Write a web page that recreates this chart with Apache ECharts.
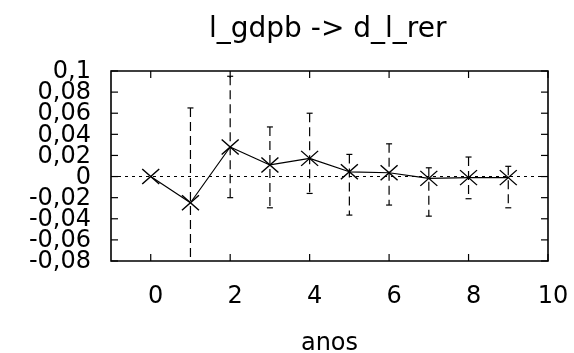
<!DOCTYPE html>
<html>
<head>
<meta charset="utf-8">
<script src="https://cdn.jsdelivr.net/npm/echarts@6/dist/echarts.min.js"></script>
<style>
  html, body { margin: 0; padding: 0; background: #ffffff; }
  #chart { width: 574px; height: 353px; }
</style>
</head>
<body>
<div id="chart"></div>
<script>
// resposta ao impulso e intervalo
const anos = [0, 1, 2, 3, 4, 5, 6, 7, 8, 9];
const resposta = [0, -0.0248, 0.028, 0.011, 0.0172, 0.0045, 0.0036, -0.0017, -0.001, -0.001];
const limiteSup = [0, 0.065, 0.095, 0.047, 0.060, 0.021, 0.031, 0.0083, 0.0185, 0.0097];
const limiteInf = [0, -0.085, -0.020, -0.0296, -0.016, -0.0365, -0.027, -0.0375, -0.021, -0.0296];
const ticksX = [0, 2, 4, 6, 8, 10];
const ticksY = [-0.08, -0.06, -0.04, -0.02, 0, 0.02, 0.04, 0.06, 0.08, 0.1];

const fonte = 'DejaVu Sans';
const chart = echarts.init(document.getElementById('chart'));

const virgula = v => {
  if (Math.abs(v) < 1e-9) return '0';
  return String(Number(v.toFixed(2))).replace('.', ',');
};

chart.setOption({
  animation: false,
  title: {
    text: 'l_gdpb -> d_l_rer',
    left: 204, top: 11,
    textStyle: { fontFamily: fonte, fontWeight: 'normal', fontSize: 28, color: '#000' }
  },
  grid: {
    left: 111, right: 26, top: 71, bottom: 92, outerBoundsMode: 'none', containLabel: false,
    show: true, borderColor: '#000', borderWidth: 1.6
  },
  xAxis: {
    type: 'value', min: -1, max: 10, interval: 1,
    name: 'anos', nameLocation: 'middle', nameGap: 71,
    nameTextStyle: { fontFamily: fonte, fontSize: 24, color: '#000' },
    axisLine: { show: false },
    axisTick: { show: false },
    splitLine: { show: false },
    axisLabel: {
      fontFamily: fonte, fontSize: 24, color: '#000', margin: 24, padding: [0, 0, 0, 10],
      formatter: v => (ticksX.indexOf(v) >= 0 ? String(v) : '')
    }
  },
  yAxis: {
    type: 'value', min: -0.08, max: 0.1, interval: 0.02,
    axisLine: { show: false },
    axisTick: { show: false },
    splitLine: { show: false },
    axisLabel: { show: false }
  },
  series: [
    {
      // marcas internas nas quatro bordas + rótulos do eixo y (sobrepostos como no original)
      type: 'custom', silent: true, clip: false,
      data: [0],
      renderItem: (params, api) => {
        const c = params.coordSys;
        const L = 7, filhos = [];
        const estilo = { stroke: '#000', lineWidth: 1.2 };
        ticksX.forEach(v => {
          const x = api.coord([v, 0])[0];
          filhos.push({ type: 'line', shape: { x1: x, y1: c.y, x2: x, y2: c.y + L }, style: estilo });
          filhos.push({ type: 'line', shape: { x1: x, y1: c.y + c.height, x2: x, y2: c.y + c.height - L }, style: estilo });
        });
        ticksY.forEach(v => {
          const y = api.coord([0, v])[1];
          filhos.push({ type: 'line', shape: { x1: c.x, y1: y, x2: c.x + L, y2: y }, style: estilo });
          filhos.push({ type: 'line', shape: { x1: c.x + c.width, y1: y, x2: c.x + c.width - L, y2: y }, style: estilo });
          filhos.push({
            type: 'text',
            style: {
              x: c.x - 20, y: y + 1, text: virgula(v), fill: '#000',
              font: '24px "DejaVu Sans"', align: 'right', verticalAlign: 'middle'
            }
          });
        });
        return { type: 'group', children: filhos };
      }
    },
    {
      type: 'custom', silent: true, clip: true,
      data: anos.slice(1).map(a => [a, limiteInf[a], limiteSup[a]]),
      renderItem: (params, api) => {
        const p1 = api.coord([api.value(0), api.value(2)]);
        const p2 = api.coord([api.value(0), api.value(1)]);
        const w = 3;
        const estilo = { stroke: '#000', lineWidth: 1.2, lineDash: [9, 5] };
        return {
          type: 'group',
          children: [
            { type: 'line', shape: { x1: p1[0], y1: p1[1], x2: p2[0], y2: p2[1] }, style: estilo },
            { type: 'line', shape: { x1: p1[0] - w, y1: p1[1], x2: p1[0] + w, y2: p1[1] }, style: { stroke: '#000', lineWidth: 1.2 } },
            { type: 'line', shape: { x1: p2[0] - w, y1: p2[1], x2: p2[0] + w, y2: p2[1] }, style: { stroke: '#000', lineWidth: 1.2 } }
          ]
        };
      }
    },
    {
      type: 'line',
      data: anos.map((a, i) => [a, resposta[i]]),
      symbol: 'path://M0,0L10,10M10,0L0,10',
      symbolSize: [17, 15],
      itemStyle: { color: 'transparent', borderColor: '#000', borderWidth: 1.3 },
      lineStyle: { color: '#000', width: 1.2 },
      markLine: {
        silent: true, symbol: 'none', label: { show: false },
        lineStyle: { color: '#000', type: [3, 4], width: 1.2 },
        data: [{ yAxis: 0 }]
      }
    }
  ]
});
</script>
</body>
</html>
